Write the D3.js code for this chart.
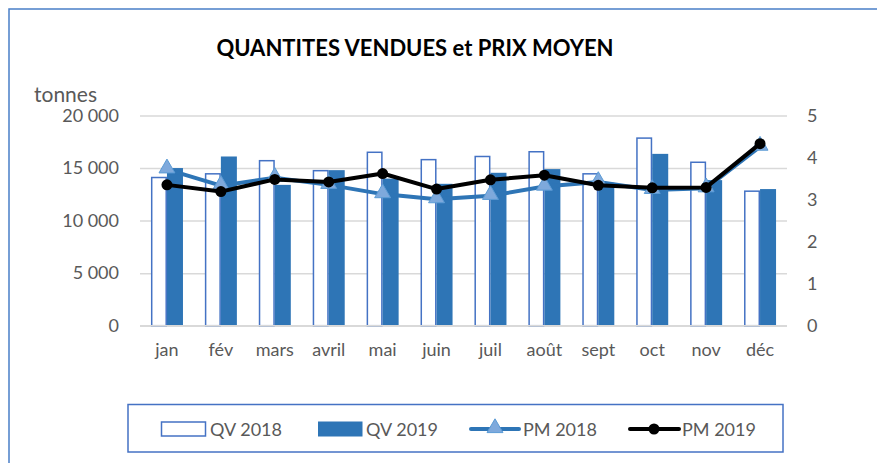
<!DOCTYPE html>
<html>
<head>
<meta charset="utf-8">
<script src="https://cdn.jsdelivr.net/npm/d3@7"></script>
<style>
  body { margin: 0; background: #fff; }
  svg text { font-family: Lato, "Liberation Sans", sans-serif; fill: #595959; }
</style>
</head>
<body>
<svg id="chart"></svg>
<script>
// months, quantities (tonnes) and average prices
const months = ["jan","fév","mars","avril","mai","juin","juil","août","sept","oct","nov","déc"];
const qv2018 = [14100,14450,15700,14750,16500,15800,16100,16550,14450,17850,15550,12800];
const qv2019 = [15000,16100,13400,14800,14000,13500,14550,14900,13600,16350,13850,13000];
const pm2018 = [3.72,3.33,3.52,3.35,3.13,3.01,3.09,3.31,3.42,3.23,3.27,4.26];
const pm2019 = [3.35,3.19,3.48,3.42,3.62,3.25,3.47,3.58,3.34,3.28,3.29,4.33];
const leftTicks = [0,5000,10000,15000,20000];
const rightTicks = [0,1,2,3,4,5];

const W = 877, H = 463;
const plot = {left: 140, right: 787, top: 115.5, bottom: 325.7};
const blue = "#2E75B6", outline = "#4472C4";

const svg = d3.select("#chart").attr("width", W).attr("height", H);

// outer chart frame
svg.append("rect")
    .attr("x", 9).attr("y", 9).attr("width", 900).attr("height", 500)
    .attr("fill", "none").attr("stroke", "#4a7fc8").attr("stroke-width", 1.5);

svg.append("text")
    .attr("x", 415).attr("y", 56)
    .attr("text-anchor", "middle")
    .style("font-weight", "bold").style("font-size", "22px").style("fill", "#000")
    .text("QUANTITES VENDUES et PRIX MOYEN");

svg.append("text")
    .attr("x", 34).attr("y", 102)
    .style("font-size", "21px")
    .text("tonnes");

// scales
const x = d3.scaleBand().domain(months).range([plot.left, plot.right]);
const xSub = d3.scaleBand().domain(["2018","2019"]).range([0, x.bandwidth()]).paddingOuter(0.684);
const yLeft = d3.scaleLinear().domain([0, 20000]).range([plot.bottom, plot.top]);
const yRight = d3.scaleLinear().domain([0, 5]).range([plot.bottom, plot.top]);

const fr = d3.formatLocale({decimal: ",", thousands: " ", grouping: [3], currency: ["", ""]});

// gridlines
const grid = svg.append("g")
    .attr("transform", `translate(${plot.left},0)`)
    .call(d3.axisLeft(yLeft).tickValues(leftTicks).tickSize(-(plot.right - plot.left)).tickFormat(""));
grid.select(".domain").remove();
grid.selectAll("line").attr("stroke", "#d9d9d9").attr("stroke-width", 1.5);

// left axis
const yAxisL = svg.append("g")
    .attr("transform", `translate(${plot.left},0)`)
    .call(d3.axisLeft(yLeft).tickValues(leftTicks).tickSize(0).tickPadding(21).tickFormat(fr.format(",")));
yAxisL.select(".domain").remove();
yAxisL.selectAll("text").style("font-size", "18px").attr("font-family", null);

// right axis
const yAxisR = svg.append("g")
    .attr("transform", `translate(${plot.right},0)`)
    .call(d3.axisRight(yRight).tickValues(rightTicks).tickSize(0).tickPadding(20).tickFormat(d3.format("d")));
yAxisR.select(".domain").remove();
yAxisR.selectAll("text").style("font-size", "18px").attr("font-family", null);

// x axis labels
const xAxis = svg.append("g")
    .attr("transform", `translate(0,${plot.bottom})`)
    .call(d3.axisBottom(x).tickSize(0).tickPadding(18));
xAxis.select(".domain").remove();
xAxis.selectAll("text").style("font-size", "18px").attr("font-family", null);

// bars
svg.append("g").selectAll("rect")
    .data(months)
    .join("rect")
    .attr("x", d => x(d) + xSub("2018") + 0.75)
    .attr("y", (d, i) => yLeft(qv2018[i]))
    .attr("width", xSub.bandwidth() - 1.5)
    .attr("height", (d, i) => plot.bottom - yLeft(qv2018[i]))
    .attr("fill", "#fff").attr("stroke", outline).attr("stroke-width", 1.5);

svg.append("g").selectAll("rect")
    .data(months)
    .join("rect")
    .attr("x", d => x(d) + xSub("2019"))
    .attr("y", (d, i) => yLeft(qv2019[i]))
    .attr("width", xSub.bandwidth())
    .attr("height", (d, i) => plot.bottom - yLeft(qv2019[i]))
    .attr("fill", blue);

// baseline over bars
svg.append("line")
    .attr("x1", plot.left).attr("x2", plot.right)
    .attr("y1", plot.bottom).attr("y2", plot.bottom)
    .attr("stroke", "#d9d9d9").attr("stroke-width", 1.5);

const cx = d => x(d) + x.bandwidth() / 2;
const tri = d3.symbol().type(d3.symbolTriangle).size(110);

// PM 2018
svg.append("path")
    .datum(pm2018)
    .attr("fill", "none").attr("stroke", blue).attr("stroke-width", 4).attr("stroke-linejoin", "round")
    .attr("d", d3.line().x((d, i) => cx(months[i])).y(d => yRight(d)));
svg.append("g").selectAll("path")
    .data(pm2018)
    .join("path")
    .attr("d", tri)
    .attr("transform", (d, i) => `translate(${cx(months[i])},${yRight(d) - 1})`)
    .attr("fill", "#7EA9DC").attr("stroke", "#5B9BD5").attr("stroke-width", 1);

// PM 2019
svg.append("path")
    .datum(pm2019)
    .attr("fill", "none").attr("stroke", "#000").attr("stroke-width", 4).attr("stroke-linejoin", "round")
    .attr("d", d3.line().x((d, i) => cx(months[i])).y(d => yRight(d)));
svg.append("g").selectAll("circle")
    .data(pm2019)
    .join("circle")
    .attr("cx", (d, i) => cx(months[i]))
    .attr("cy", d => yRight(d))
    .attr("r", 5.5)
    .attr("fill", "#000");

// legend
const legend = svg.append("g");
legend.append("rect")
    .attr("x", 128).attr("y", 404.5).attr("width", 655).attr("height", 47.5)
    .attr("fill", "#fff").attr("stroke", outline).attr("stroke-width", 1.5);

const ly = 429;
legend.append("rect").attr("x", 161.5).attr("y", 422).attr("width", 44).attr("height", 14)
    .attr("fill", "#fff").attr("stroke", outline).attr("stroke-width", 1.5);
legend.append("rect").attr("x", 318).attr("y", 421.5).attr("width", 44.5).attr("height", 15)
    .attr("fill", blue);
legend.append("line").attr("x1", 471).attr("x2", 519).attr("y1", ly).attr("y2", ly)
    .attr("stroke", blue).attr("stroke-width", 4).attr("stroke-linecap", "round");
legend.append("path").attr("d", tri).attr("transform", `translate(495,${ly - 1})`)
    .attr("fill", "#7EA9DC").attr("stroke", "#5B9BD5").attr("stroke-width", 1);
legend.append("line").attr("x1", 630).attr("x2", 679).attr("y1", ly).attr("y2", ly)
    .attr("stroke", "#000").attr("stroke-width", 4).attr("stroke-linecap", "round");
legend.append("circle").attr("cx", 654).attr("cy", ly).attr("r", 5.5).attr("fill", "#000");

const legendLabels = [["QV 2018", 210], ["QV 2019", 366], ["PM 2018", 523], ["PM 2019", 682]];
legend.selectAll("text.lbl")
    .data(legendLabels)
    .join("text")
    .attr("class", "lbl")
    .attr("x", d => d[1])
    .attr("y", ly + 6.5)
    .style("font-size", "18px")
    .text(d => d[0]);
</script>
</body>
</html>
